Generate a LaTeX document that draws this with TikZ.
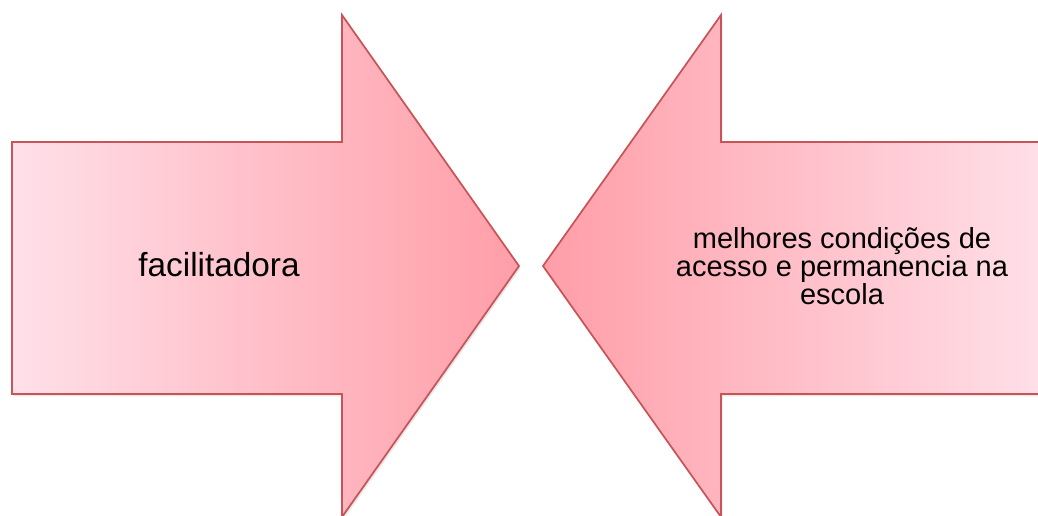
\documentclass[tikz,border=0pt]{standalone}
\usepackage{fontspec}
\setmainfont{Liberation Sans}
\usetikzlibrary{positioning,shadows}
\definecolor{arrlight}{RGB}{255,224,233}
\definecolor{arrdark}{RGB}{255,158,168}
\definecolor{arrline}{RGB}{200,84,88}
\tikzset{
  bigarr/.style={draw=arrline,line width=1.3pt,line join=miter,
    drop shadow={shadow xshift=1.2pt,shadow yshift=-1.8pt,opacity=0.18}},
  lbl/.style={inner sep=0pt,align=center,text=black}
}

\begin{document}
\begin{tikzpicture}[x=0.75pt,y=-0.75pt]

\clip (0,0) rectangle (1038,515);
\useasboundingbox (0,0) rectangle (1038,515);

% left arrow, pointing right
\path[bigarr,left color=arrlight,right color=arrdark]
  (12,142) -- (342,142) -- (342,15) -- (519,266) -- (342,517)
  -- (342,394) -- (12,394) -- cycle;
% right arrow, pointing left
\path[bigarr,left color=arrdark,right color=arrlight]
  (1046,142) -- (721,142) -- (721,15) -- (543,266) -- (721,517)
  -- (721,394) -- (1046,394) -- cycle;

\node[lbl,font=\fontsize{25}{30}\selectfont] (facil) at (219,265) {facilitadora};
\node[lbl,font=\fontsize{21.75}{21}\selectfont] (cond) at (842,266)
  {melhores condições de\\acesso e permanencia na\\escola};

\end{tikzpicture}
\end{document}
